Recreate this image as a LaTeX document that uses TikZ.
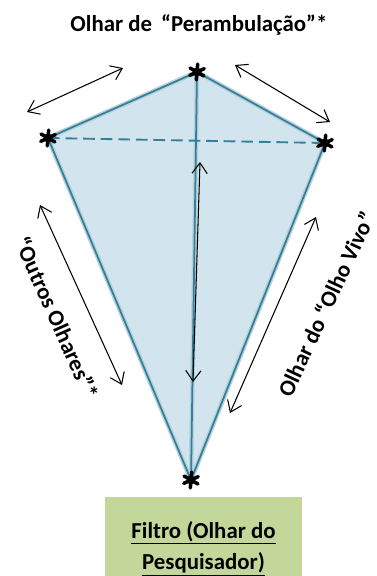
\documentclass[tikz,border=0pt]{standalone}
\usepackage{fontspec}
\setmainfont{Carlito}
\usetikzlibrary{arrows.meta}

\definecolor{pipa}{HTML}{D2E5EE}
\definecolor{borda}{HTML}{357F9C}
\definecolor{filtro}{HTML}{C4D79B}

\begin{document}
\begin{tikzpicture}[x=0.03cm,y=-0.03cm,
  seta/.style={{Straight Barb[length=9pt,width=13pt]}-{Straight Barb[length=9pt,width=13pt]}, line width=0.9pt},
  marca/.style={line width=3pt, line cap=round},
  texto/.style={font=\bfseries\fontsize{19.5}{27}\selectfont}]

\useasboundingbox (0,0) rectangle (377,576);

% Pipa
\coordinate (topo) at (197,72);
\coordinate (esq) at (48,138);
\coordinate (dir) at (325,143);
\coordinate (base) at (191,480);

\fill[pipa] (topo) -- (dir) -- (base) -- (esq) -- cycle;
\draw[borda!35, line width=4pt, line join=round] (topo) -- (dir) -- (base) -- (esq) -- cycle;
\draw[borda!35, line width=4pt] (topo) -- (base);
\draw[borda, line width=1.5pt, line join=round] (topo) -- (dir) -- (base) -- (esq) -- cycle;
\draw[borda, line width=1.5pt] (topo) -- (base);

% Vareta tracejada
\draw[borda, line width=1.6pt, dash pattern=on 10pt off 5pt] (esq) -- (dir);

% Marcas
\foreach \p in {topo,esq,dir,base}
{
\fill (\p) circle (4.5);
\foreach \a in {30,95,155}
  \draw[marca] (\p) ++(\a:8) -- ++(\a+180:16);
}

% Setas
\draw[seta] (27,112) -- (123,68);
\draw[seta] (235,65) -- (330,122);
\draw[seta] (40,205) -- (122,385);
\draw[seta] (230,413) -- (316,217);
\draw[seta] (200,162) -- (193,382);

% Textos
\node[texto] (titulo) at (199,25) {Olhar de \,“Perambulação”*};
\node[texto, rotate=-66] (outros) at (57,318) {“Outros Olhares”*};
\node[texto, rotate=65] (vivo) at (326,304) {Olhar do “Olho Vivo”};

% Filtro
\node[texto, fill=filtro, minimum width=5.91cm, minimum height=3.09cm, align=center] (filtro) at (203.5,548.5)
  {\underline{Filtro (Olhar do}\\\underline{Pesquisador)}};

\end{tikzpicture}
\end{document}
